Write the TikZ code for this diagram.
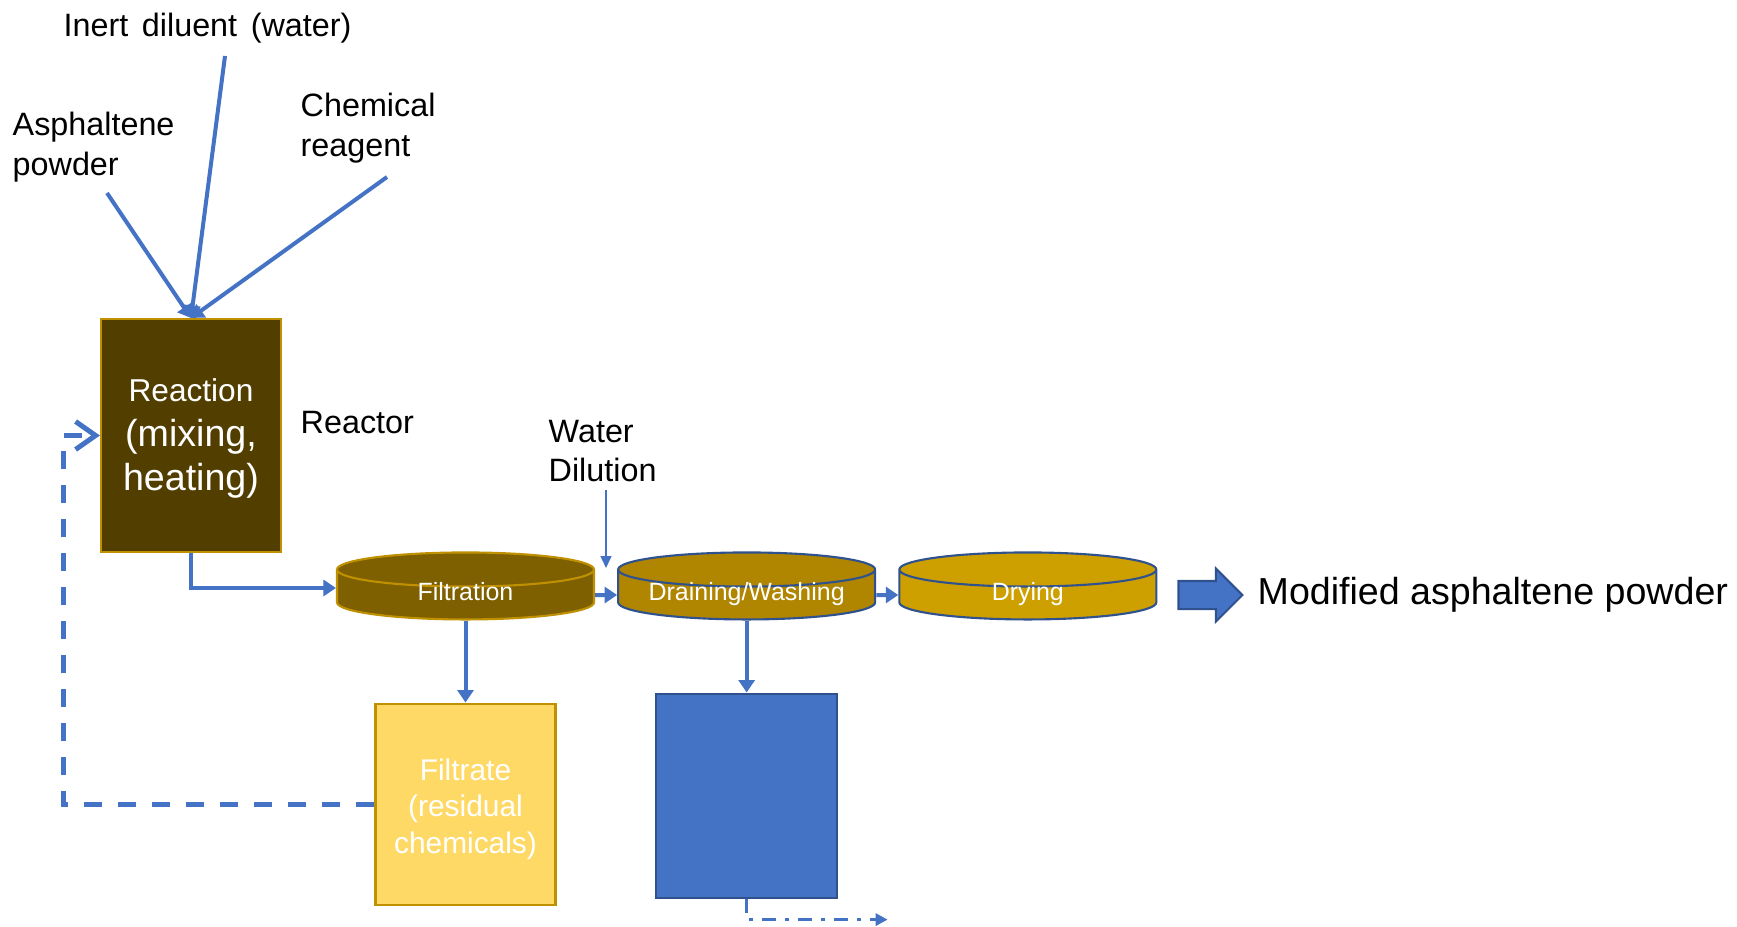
\documentclass[tikz,border=0pt]{standalone}
\usepackage{fontspec}
\setmainfont{Liberation Sans}
\usepackage{tikz}
\usetikzlibrary{arrows.meta,positioning,shapes.geometric,shapes.arrows}
\definecolor{flowblue}{HTML}{4472C4}
\definecolor{edgeblue}{HTML}{2F528F}
\definecolor{gold}{HTML}{BF9000}
\definecolor{reactbrown}{HTML}{523F00}
\definecolor{filtbrown}{HTML}{7F6000}
\definecolor{washgold}{HTML}{B08500}
\definecolor{drygold}{HTML}{CDA000}
\definecolor{filtrateyellow}{HTML}{FFD966}

\begin{document}
\begin{tikzpicture}[
  x=0.1mm,y=-0.1mm,
  node distance=2.2mm,
  lbl/.style={align=left,inner sep=0pt,font=\fontsize{9.2}{11.3}\selectfont},
  vessel/.style={rectangle,draw=gold,line width=0.6pt,text=white,align=center,minimum width=18mm},
  drum/.style={cylinder,shape border rotate=90,aspect=0.155,line width=0.6pt,text=white,inner sep=0pt,
    text width=22mm,text height=3.6pt,text depth=0.4pt,align=center,minimum width=25.7mm,minimum height=6.7mm,
    font=\fontsize{7.1}{8}\selectfont},
  arr/.style={-{Triangle[length=1.25mm,width=1.6mm]},line width=0.4mm,draw=flowblue},
  thinarr/.style={-{Triangle[length=1.2mm,width=1.1mm]},line width=0.15mm,draw=flowblue},
  recycle/.style={-{Straight Barb[length=2mm,width=2.8mm]},line width=0.5mm,draw=flowblue,dash pattern=on 1.8mm off 1.6mm},
  drain/.style={-{Triangle[length=1.2mm,width=1.2mm]},line width=0.3mm,draw=flowblue,dash pattern=on 1.4mm off 0.9mm on 0.4mm off 0.9mm}
]
  \useasboundingbox (0,0) rectangle (1737,926);

  % feeds
  \node[lbl,anchor=west] (diluent) at (63,28) {Inert\hspace{1.3pt} diluent\hspace{1.3pt} (water)};
  \node[lbl,anchor=west] (asph) at (12,147) {Asphaltene\\powder};
  \node[lbl,anchor=west] (reagent) at (300,128) {Chemical\\reagent};
  \coordinate (asph-in) at (107,193);
  \coordinate (diluent-in) at (225,56);
  \coordinate (reagent-in) at (387,177);

  % reactor
  \node[vessel,fill=reactbrown,minimum height=23.3mm,text depth=0.4pt,font=\fontsize{9}{12.6}\selectfont] (reactor) at (191,435.5)
    {Reaction\\\fontsize{10.7}{12.6}\selectfont(mixing,\\\fontsize{10.7}{12.6}\selectfont heating)};
  \node[lbl,anchor=west] (reactorlbl) at (300,423) {Reactor};

  % separation train
  \node[drum,draw=gold,fill=filtbrown] (filt) at (465.5,595) {Filtration};
  \node[drum,draw=edgeblue,fill=washgold,right=of filt] (wash) {Draining/Washing};
  \node[drum,draw=edgeblue,fill=drygold,right=of wash] (dry) {Drying};
  \node[single arrow,draw=edgeblue,line width=0.6pt,fill=flowblue,inner xsep=0pt,inner ysep=1.3mm,
    minimum height=6.4mm,single arrow head extend=1.25mm,right=2mm of dry] (out) {};
  \node[lbl,font=\fontsize{10.7}{13}\selectfont,right=1.3mm of out] (product) {Modified asphaltene powder};

  \node[lbl,anchor=west] (dilution) at (548,451) {Water\\Dilution};
  \coordinate (dil-top) at (606,490);
  \coordinate (dil-end) at (606,568);

  % outlets
  \node[vessel,fill=filtrateyellow,minimum height=20.1mm,below=8.2mm of filt,text height=29.8pt,text depth=1.8pt,
    font=\fontsize{8.5}{10.4}\selectfont] (filtrate) {Filtrate\\(residual\\chemicals)};
  \node[rectangle,draw=edgeblue,line width=0.6pt,fill=flowblue,minimum width=18.1mm,minimum height=20.4mm,
    below=7.2mm of wash] (washwater) {};

  \draw[arr] (asph-in) -- (reactor.north);
  \draw[arr] (diluent-in) -- (reactor.north);
  \draw[arr] (reagent-in) -- (reactor.north);
  \draw[arr] (reactor.south) |- ([yshift=0.7mm]filt.west);
  \draw[arr] (filt) -- (wash);
  \draw[arr] (wash) -- (dry);
  \draw[thinarr] (dil-top) -- (dil-end);
  \draw[arr] (filt.south) -- (filtrate.north);
  \draw[arr] (wash.south) -- (washwater.north);
  \draw[recycle] (filtrate.west) -- ++(-311,0) |- (reactor.west);
  \draw[drain] (washwater.south) |- ++(141,21);
\end{tikzpicture}
\end{document}
